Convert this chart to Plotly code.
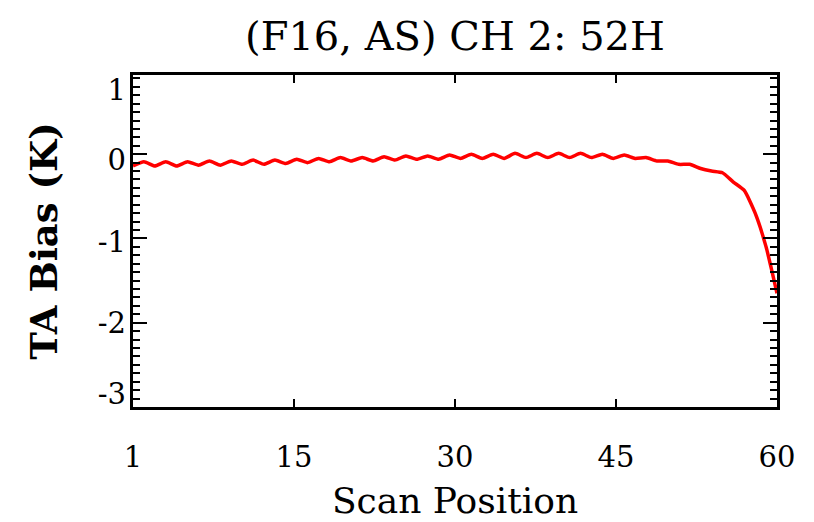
import numpy as np
import plotly.graph_objects as go

# Data
scan_position = list(range(1, 61))
ta_bias = [
    -0.14, -0.09, -0.14, -0.09, -0.14, -0.09, -0.13, -0.08, -0.13, -0.08,
    -0.12, -0.07, -0.12, -0.07, -0.11, -0.06, -0.10, -0.05, -0.09, -0.04,
    -0.08, -0.04, -0.08, -0.03, -0.07, -0.02, -0.06, -0.02, -0.06, -0.01,
    -0.05, 0.00, -0.05, 0.00, -0.05, 0.01, -0.04, 0.01, -0.04, 0.01,
    -0.04, 0.01, -0.04, 0.00, -0.05, -0.01, -0.05, -0.04, -0.08, -0.08,
    -0.12, -0.12, -0.17, -0.20, -0.22, -0.33, -0.43, -0.70, -1.10, -1.65,
]
x_tick_labels = ["1", "15", "30", "45", "60"]
y_tick_labels = ["1", "0", "-1", "-2", "-3"]
# where the y labels sit visually (edge labels are pulled inside the frame)
y_label_positions = [0.76, -0.07, -1.04, -2.0, -2.84]

title = "(F16, AS) CH 2: 52H"
x_title = "Scan Position"
y_title = "TA Bias (K)"

FONT = "DejaVu Serif"
y_range = [-3.0, 0.94]
x_range = [1, 60]

fig = go.Figure()
fig.add_trace(go.Scatter(
    x=scan_position, y=ta_bias, mode="lines",
    line=dict(color="#ff0000", width=3.5, shape="spline", smoothing=0.5),
    hoverinfo="skip", showlegend=False,
))
# invisible trace to activate label axis
fig.add_trace(go.Scatter(x=[None], y=[None], yaxis="y2", showlegend=False))

x_tickvals = list(np.linspace(x_range[0], x_range[1], len(x_tick_labels)))

fig.update_layout(
    width=814, height=522,
    margin=dict(l=125, r=45, t=67, b=123),
    paper_bgcolor="white", plot_bgcolor="white",
    font=dict(family=FONT, color="black", size=29),
    title=dict(text=title, x=0.5, xref="paper", xanchor="center",
               y=1 - 28 / 522, yref="container", yanchor="middle",
               font=dict(family=FONT, size=40, color="black")),
    xaxis=dict(
        range=x_range, showgrid=False, zeroline=False,
        showline=True, linecolor="black", linewidth=2.5, mirror="ticks",
        ticks="inside", ticklen=8, tickwidth=2, tickcolor="black",
        tickvals=x_tickvals, ticktext=x_tick_labels,
        tickfont=dict(family=FONT, size=29),
        ticklabelstandoff=22,
        title=dict(text=x_title, font=dict(family=FONT, size=36), standoff=16),
    ),
    yaxis=dict(
        range=y_range, showgrid=False, zeroline=False,
        showline=True, linecolor="black", linewidth=2.5, mirror="allticks",
        ticks="inside", ticklen=14, tickwidth=2, tickcolor="black",
        tick0=0, dtick=1, showticklabels=False,
        minor=dict(ticks="inside", ticklen=7, tickwidth=2, tickcolor="black", dtick=0.1, tick0=0),
    ),
    yaxis2=dict(
        range=y_range, overlaying="y", side="left", anchor="x",
        showgrid=False, zeroline=False, showline=False, ticks="",
        tickvals=y_label_positions, ticktext=y_tick_labels,
        tickfont=dict(family=FONT, size=29), ticklabelstandoff=6,
        title=dict(text="<b>" + y_title + "</b>", font=dict(family=FONT, size=37), standoff=28),
    ),
)

fig.write_html("out.html")
